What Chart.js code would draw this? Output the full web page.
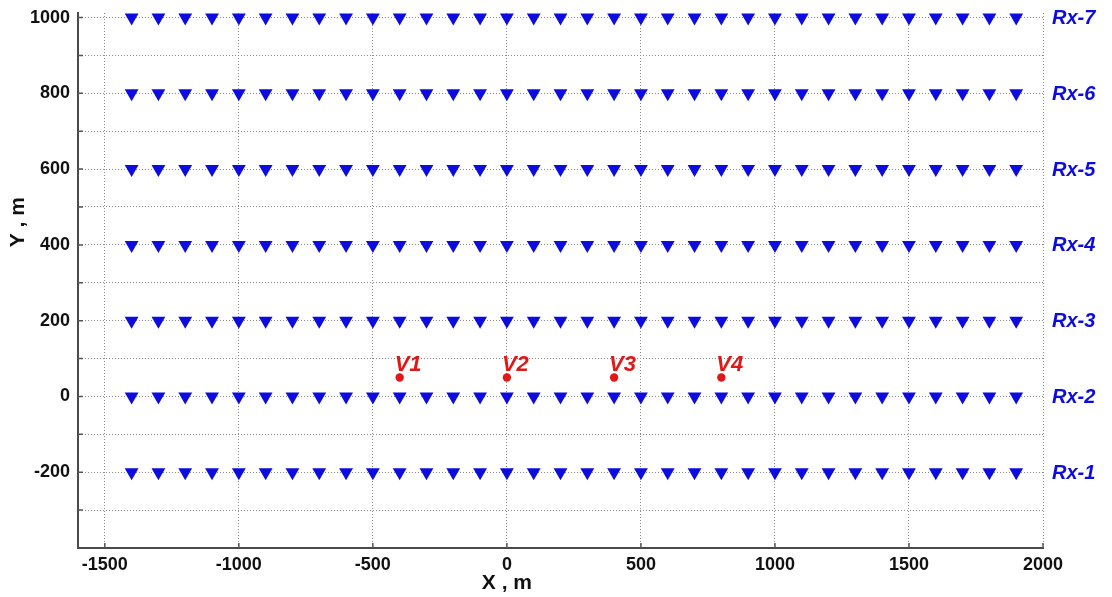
<!DOCTYPE html>
<html>
<head>
<meta charset="utf-8">
<script src="https://cdn.jsdelivr.net/npm/chart.js@4/dist/chart.umd.min.js"></script>
<style>
  body { margin: 0; background: #fff; }
  #wrap { width: 1112px; height: 597px; }
</style>
</head>
<body>
<div id="wrap"><canvas id="graf"></canvas></div>
<script>
// receiver positions along each line (m)
const rxX = [-1400, -1300, -1200, -1100, -1000, -900, -800, -700, -600, -500, -400, -300,
             -200, -100, 0, 100, 200, 300, 400, 500, 600, 700, 800, 900, 1000, 1100,
             1200, 1300, 1400, 1500, 1600, 1700, 1800, 1900];
const rowY = [-200, 0, 200, 400, 600, 800, 1000];
const rowLabels = ['Rx-1', 'Rx-2', 'Rx-3', 'Rx-4', 'Rx-5', 'Rx-6', 'Rx-7'];

// sources
const srcX = [-400, 0, 400, 800];
const srcY = [50, 50, 50, 50];
const srcLabels = ['V1', 'V2', 'V3', 'V4'];

// ticks
const xTicks = [-1500, -1000, -500, 0, 500, 1000, 1500, 2000];
const yGrid = [-300, -200, -100, 0, 100, 200, 300, 400, 500, 600, 700, 800, 900, 1000];
const yTickLabels = [-200, 0, 200, 400, 600, 800, 1000];

const BLUE = '#0c0ce0';
const RED = '#e01818';
const FONT = '"Liberation Sans", Arial, sans-serif';

const datasets = rowY.map(function (y, i) {
    return {
        label: rowLabels[i],
        data: rxX.map(function (x) { return { x: x, y: y }; }),
        pointStyle: 'triangle',
        rotation: 180,
        pointRadius: 8,
        pointHoverRadius: 8,
        backgroundColor: BLUE,
        borderColor: BLUE,
        borderWidth: 0
    };
});
datasets.push({
    label: 'sources',
    data: srcX.map(function (x, i) { return { x: x, y: srcY[i] }; }),
    pointStyle: 'circle',
    pointRadius: 4.2,
    backgroundColor: RED,
    borderColor: RED,
    borderWidth: 0
});

const labelsPlugin = {
    id: 'labels',
    afterDatasetsDraw(chart) {
        const c = chart.ctx;
        const xs = chart.scales.x, ys = chart.scales.y;
        const area = chart.chartArea;
        c.save();
        // inward tick marks
        c.strokeStyle = '#555';
        c.lineWidth = 1.5;
        c.beginPath();
        yGrid.forEach(function (v) {
            const py = ys.getPixelForValue(v);
            c.moveTo(area.left, py); c.lineTo(area.left + 5, py);
        });
        xTicks.forEach(function (v) {
            const px = xs.getPixelForValue(v);
            c.moveTo(px, area.bottom); c.lineTo(px, area.bottom - 5);
        });
        c.stroke();

        // row labels
        c.font = 'italic bold 20px ' + FONT;
        c.fillStyle = BLUE;
        c.textAlign = 'left';
        c.textBaseline = 'middle';
        rowY.forEach(function (y, i) {
            c.fillText(rowLabels[i], area.right + 9, ys.getPixelForValue(y) + 1);
        });
        // source labels
        c.font = 'italic bold 22px ' + FONT;
        c.fillStyle = RED;
        c.textBaseline = 'alphabetic';
        srcX.forEach(function (x, i) {
            c.fillText(srcLabels[i], xs.getPixelForValue(x) - 5, ys.getPixelForValue(srcY[i]) - 6);
        });
        // axis titles
        c.fillStyle = '#111';
        c.font = 'bold 21px ' + FONT;
        c.textAlign = 'center';
        c.textBaseline = 'middle';
        c.fillText('X , m', xs.getPixelForValue(0), 583);
        c.translate(18, ys.getPixelForValue(460));
        c.rotate(-Math.PI / 2);
        c.fillText('Y , m', 0, 0);
        c.restore();
    }
};

ctx = document.getElementById('graf').getContext('2d');

grafico = new Chart(ctx, {
    type: 'scatter',
    data: { datasets: datasets },
    plugins: [labelsPlugin],
    options: {
        responsive: true,
        maintainAspectRatio: false,
        animation: false,
        layout: { padding: { left: 0, right: 69, top: 13, bottom: 0 } },
        plugins: {
            legend: { display: false },
            tooltip: { enabled: false }
        },
        scales: {
            x: {
                type: 'linear',
                min: -1600,
                max: 2000,
                afterBuildTicks: function (s) { s.ticks = xTicks.map(function (v) { return { value: v }; }); },
                afterFit: function (s) { s.height = 49; s.paddingLeft = 0; s.paddingRight = 0; },
                grid: { color: '#8c8c8c', lineWidth: 1, drawTicks: false },
                border: { display: true, color: '#4a4a4a', width: 2, dash: [1, 2] },
                ticks: {
                    color: '#111',
                    padding: 6,
                    maxRotation: 0,
                    font: { family: FONT, size: 18, weight: 'bold' },
                    callback: function (v) { return String(v); }
                }
            },
            y: {
                type: 'linear',
                min: -400,
                max: 1012,
                afterBuildTicks: function (s) { s.ticks = yGrid.map(function (v) { return { value: v }; }); },
                afterFit: function (s) { s.width = 78; s.paddingTop = 0; s.paddingBottom = 0; },
                grid: { color: '#8c8c8c', lineWidth: 1, drawTicks: false },
                border: { display: true, color: '#4a4a4a', width: 2, dash: [1, 2] },
                ticks: {
                    color: '#111',
                    padding: 8,
                    font: { family: FONT, size: 18, weight: 'bold' },
                    callback: function (v) { return yTickLabels.indexOf(v) >= 0 ? String(v) : ''; }
                }
            }
        }
    }
});
</script>
</body>
</html>
